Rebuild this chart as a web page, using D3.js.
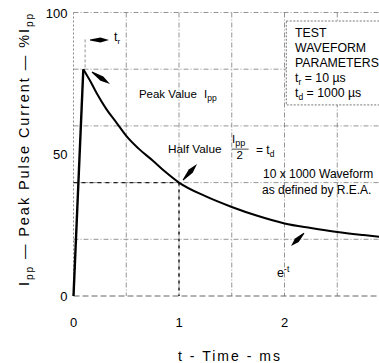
<!DOCTYPE html>
<html>
<head>
<meta charset="utf-8">
<script src="https://cdn.jsdelivr.net/npm/d3@7"></script>
<style>
  html, body { margin: 0; padding: 0; background: #fff; }
  svg { display: block; font-family: 'Liberation Sans', Arial, Helvetica, sans-serif; }
</style>
</head>
<body>
<div id="chart"></div>
<script>
// waveform (time in ms, current in % of scale)
const timeMs = [0, 0.093, 0.156, 0.22, 0.31, 0.41, 0.5, 0.62, 0.75, 0.87, 1.0, 1.25, 1.5, 1.75, 2.0, 2.25, 2.5, 2.75, 2.95];
const currentPct = [0, 80, 76, 71.5, 66, 61, 56.5, 51.9, 47.8, 43.8, 40, 35.2, 31.4, 28.2, 25.6, 24, 22.6, 21.5, 20.7];

const xTicks = [0, 1, 2];
const yTicks = [0, 50, 100];
const xGrid = [0.5, 1, 1.5, 2, 2.5];
const yGrid = [20, 40, 60, 80, 100];

const halfTime = 1;
const halfValue = 40;
const riseMarkTime = 0.11;
const riseMarkTop = 90.5;

const boxLines = ['TEST', 'WAVEFORM', 'PARAMETERS'];

const width = 379;
const height = 363;

const svg = d3
	.select('#chart')
	.append('svg')
	.attr('width', width)
	.attr('height', height);

svg.append('rect').attr('width', width).attr('height', height).attr('fill', '#fff');

const x = d3.scaleLinear().domain([0, 3]).range([73.5, 390]);
const y = d3.scaleLinear().domain([0, 100]).range([296, 12.5]);

const gridColor = '#7a7a7a';

// grid
svg
	.selectAll('.vgrid')
	.data(xGrid)
	.enter()
	.append('line')
	.attr('class', 'vgrid')
	.attr('x1', (d) => x(d))
	.attr('x2', (d) => x(d))
	.attr('y1', y(100))
	.attr('y2', y(0))
	.attr('stroke', gridColor)
	.attr('stroke-width', 0.8)
	.attr('stroke-dasharray', '5,2,1,2');

svg
	.selectAll('.hgrid')
	.data(yGrid)
	.enter()
	.append('line')
	.attr('class', 'hgrid')
	.attr('x1', x(0))
	.attr('x2', width)
	.attr('y1', (d) => y(d))
	.attr('y2', (d) => y(d))
	.attr('stroke', gridColor)
	.attr('stroke-width', 0.8)
	.attr('stroke-dasharray', '5,2,1,2');

// frame: left and bottom
svg
	.append('line')
	.attr('x1', x(0))
	.attr('x2', x(0))
	.attr('y1', y(100))
	.attr('y2', y(0))
	.attr('stroke', gridColor)
	.attr('stroke-width', 0.9)
	.attr('stroke-dasharray', '2,2');

svg
	.append('line')
	.attr('x1', x(0))
	.attr('x2', width)
	.attr('y1', y(0))
	.attr('y2', y(0))
	.attr('stroke', '#555')
	.attr('stroke-width', 0.9)
	.attr('stroke-dasharray', '6,3');

// half value markers
svg
	.append('line')
	.attr('x1', x(0))
	.attr('x2', x(halfTime))
	.attr('y1', y(halfValue))
	.attr('y2', y(halfValue))
	.attr('stroke', '#222')
	.attr('stroke-width', 1.3)
	.attr('stroke-dasharray', '4,4');

svg
	.append('line')
	.attr('x1', x(halfTime))
	.attr('x2', x(halfTime))
	.attr('y1', y(halfValue))
	.attr('y2', y(0))
	.attr('stroke', '#222')
	.attr('stroke-width', 1.5)
	.attr('stroke-dasharray', '3,4');

// rise time marker
svg
	.append('line')
	.attr('x1', x(riseMarkTime))
	.attr('x2', x(riseMarkTime))
	.attr('y1', y(riseMarkTop))
	.attr('y2', y(currentPct[1]))
	.attr('stroke', gridColor)
	.attr('stroke-width', 0.8)
	.attr('stroke-dasharray', '3,2');

// waveform
const points = timeMs.map((t, i) => ({ t: t, v: currentPct[i] }));

const riseLine = d3
	.line()
	.x((d) => x(d.t))
	.y((d) => y(d.v));

const decayLine = d3
	.line()
	.x((d) => x(d.t))
	.y((d) => y(d.v))
	.curve(d3.curveMonotoneX);

svg
	.append('path')
	.datum(points.slice(0, 2))
	.attr('fill', 'none')
	.attr('stroke', '#000')
	.attr('stroke-width', 2.4)
	.attr('d', riseLine);

svg
	.append('path')
	.datum(points.slice(1))
	.attr('fill', 'none')
	.attr('stroke', '#000')
	.attr('stroke-width', 2)
	.attr('d', decayLine);

// tick labels
svg
	.selectAll('.ytick')
	.data(yTicks)
	.enter()
	.append('text')
	.attr('class', 'ytick')
	.attr('x', x(0) - 6)
	.attr('y', (d) => y(d) + 5)
	.attr('text-anchor', 'end')
	.attr('font-size', 13)
	.text((d) => d);

svg
	.selectAll('.xtick')
	.data(xTicks)
	.enter()
	.append('text')
	.attr('class', 'xtick')
	.attr('x', (d) => x(d))
	.attr('y', 327)
	.attr('text-anchor', 'middle')
	.attr('font-size', 13)
	.text((d) => d);

// axis titles
svg
	.append('text')
	.attr('x', 229)
	.attr('y', 361)
	.attr('text-anchor', 'middle')
	.attr('font-size', 14)
	.attr('textLength', 102)
	.attr('lengthAdjust', 'spacing')
	.text('t - Time - ms');

const yTitle = svg
	.append('text')
	.attr('transform', 'translate(29,150) rotate(-90)')
	.attr('text-anchor', 'middle')
	.attr('font-size', 14.5)
	.attr('textLength', 272)
	.attr('lengthAdjust', 'spacing');
yTitle.append('tspan').text('I');
yTitle.append('tspan').attr('font-size', 10).attr('dy', 4).text('pp');
yTitle.append('tspan').attr('dy', -4).text(' \u2014 Peak Pulse Current \u2014 %I');
yTitle.append('tspan').attr('font-size', 10).attr('dy', 4).text('pp');

// arrows: thin tail at the curve, wide head at the label end
const wedge = (t0, v0, t1, v1, w) => {
	const ax = x(t0), ay = y(v0), bx = x(t1), by = y(v1);
	const len = Math.hypot(bx - ax, by - ay);
	const ux = (bx - ax) / len, uy = (by - ay) / len;
	const nx = -uy, ny = ux;
	const mx = ax + ux * len * 0.55, my = ay + uy * len * 0.55;
	const pts = [
		[ax + nx * 0.5, ay + ny * 0.5],
		[mx + nx * w, my + ny * w],
		[bx, by],
		[mx - nx * w, my - ny * w],
		[ax - nx * 0.5, ay - ny * 0.5]
	];
	svg
		.append('path')
		.attr('d', d3.line().curve(d3.curveLinearClosed)(pts))
		.attr('fill', '#000');
};

wedge(0.156, 90.3, 0.336, 90.3, 2.6);
wedge(0.175, 79.0, 0.346, 74.8, 2.6);
wedge(1.038, 40.9, 1.171, 46.6, 2.6);
wedge(2.185, 22.2, 2.062, 17.6, 2.6);

// annotation text
const label = (t, v, size) =>
	svg.append('text').attr('x', x(t)).attr('y', y(v)).attr('font-size', size);

const tr = label(0.384, 89.8, 12.5);
tr.append('tspan').text('t');
tr.append('tspan').attr('font-size', 8).attr('dy', 3).text('r');

const peak = label(0.62, 69.8, 11.5);
peak.append('tspan').text('Peak Value ');
peak.append('tspan').attr('dx', 4).text('I');
peak.append('tspan').attr('font-size', 8.5).attr('dy', 3).text('pp');

label(0.896, 50.3, 11.8).text('Half Value');

const frac = label(1.502, 53.8, 11.5);
frac.append('tspan').text('I');
frac.append('tspan').attr('font-size', 9).attr('dy', 3).text('pp');
svg
	.append('line')
	.attr('x1', x(1.5))
	.attr('x2', x(1.66))
	.attr('y1', y(51.8))
	.attr('y2', y(51.8))
	.attr('stroke', '#000')
	.attr('stroke-width', 0.7);
label(1.545, 48.5, 11.5).text('2');

const td = label(1.73, 50.2, 12);
td.append('tspan').text('=  t');
td.append('tspan').attr('font-size', 8.5).attr('dy', 3).text('d');

label(1.796, 41.5, 12).text('10 x 1000 Waveform');
label(1.787, 35.9, 12).text('as defined by R.E.A.');

const e = label(1.93, 6.6, 12.5);
e.append('tspan').text('e');
e.append('tspan').attr('font-size', 8.5).attr('dy', -5).text('-t');

// parameter box, running past the right edge
svg
	.append('rect')
	.attr('x', x(2.017))
	.attr('y', y(97))
	.attr('width', 150)
	.attr('height', y(67.4) - y(97))
	.attr('fill', '#fff')
	.attr('stroke', '#555')
	.attr('stroke-width', 0.8)
	.attr('stroke-dasharray', '2,1.5');

boxLines.forEach((s, i) => {
	label(2.1, 91.2 - i * 5.3, 12.3).text(s);
});

const p1 = label(2.1, 75.4, 12.3);
p1.append('tspan').text('t');
p1.append('tspan').attr('font-size', 8.5).attr('dy', 3).text('r');
p1.append('tspan').attr('dy', -3).text(' = 10 \u00b5s');

const p2 = label(2.1, 70.1, 12.3);
p2.append('tspan').text('t');
p2.append('tspan').attr('font-size', 8.5).attr('dy', 3).text('d');
p2.append('tspan').attr('dy', -3).text(' = 1000 \u00b5s');
</script>
</body>
</html>
